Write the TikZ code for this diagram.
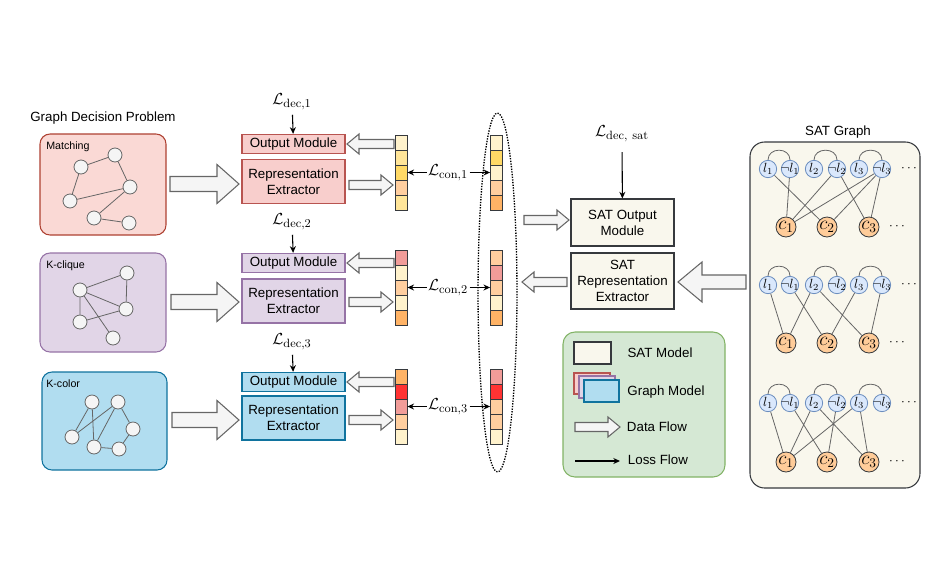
\documentclass[tikz,border=0pt]{standalone}
\usepackage[no-math]{fontspec}
\setmainfont{Liberation Sans}
\usetikzlibrary{fit,arrows.meta,calc}
\definecolor{gfill}{HTML}{F5F5F5}
\definecolor{gstroke}{HTML}{666666}
\definecolor{matF}{HTML}{FAD9D5}
\definecolor{matS}{HTML}{AE4132}
\definecolor{redF}{HTML}{F8CECC}
\definecolor{redS}{HTML}{B85450}
\definecolor{purF}{HTML}{E1D5E7}
\definecolor{purS}{HTML}{9673A6}
\definecolor{bluF}{HTML}{B1DDF0}
\definecolor{bluS}{HTML}{10739E}
\definecolor{satF}{HTML}{F9F7ED}
\definecolor{satS}{HTML}{36393D}
\definecolor{legF}{HTML}{D5E8D4}
\definecolor{legS}{HTML}{82B366}
\definecolor{litF}{HTML}{DAE8FC}
\definecolor{litS}{HTML}{6C8EBF}
\definecolor{clsF}{HTML}{FFCC99}
\definecolor{vc0}{HTML}{FFF2CC}
\definecolor{vc1}{HTML}{FFE599}
\definecolor{vc2}{HTML}{FFD966}
\definecolor{vc3}{HTML}{FFCE9F}
\definecolor{vc4}{HTML}{FFB366}
\definecolor{vc5}{HTML}{F19C99}
\definecolor{vc6}{HTML}{FF3333}
\newcommand\harr[7]{\draw[#1] (#2,#5-#6) -- (#3,#5-#6) -- (#3,#5-#7) -- (#4,#5) -- (#3,#5+#7) -- (#3,#5+#6) -- (#2,#5+#6) -- cycle;}
\newcommand\zb[1]{\makebox[0pt]{#1}}
\newcommand\mth{\fontsize{13}{15}\selectfont}
\begin{document}
\begin{tikzpicture}[x=0.75pt,y=-0.75pt,font=\fontsize{10}{12}\selectfont,
  panel/.style={rounded corners=7.5pt,line width=0.8pt,inner sep=0pt},
  modbox/.style={draw,line width=0.8pt,inner sep=0pt,align=center,minimum width=77.25pt},
  outbox/.style={modbox,minimum height=14.5pt},
  extbox/.style={modbox,minimum height=33pt},
  gnode/.style={circle,draw=gstroke,fill=gfill,minimum size=10.5pt,inner sep=0pt,line width=0.6pt},
  gedge/.style={draw=gstroke,line width=0.6pt},
  lit/.style={circle,draw=litS,fill=litF,minimum size=13pt,inner sep=0pt,line width=0.6pt,font=\normalsize},
  cls/.style={circle,draw=satS,fill=clsF,minimum size=15pt,inner sep=0pt,line width=0.6pt,font=\Large},
  cell/.style={draw=satS,line width=0.6pt,minimum width=9pt,minimum height=11.25pt,inner sep=0pt},
  lossarrow/.style={-{Stealth[length=5pt,width=4.5pt]},line width=0.8pt},
  bigarrow/.style={draw=gstroke,fill=gfill,line width=0.8pt},
  thinarrow/.style={draw=gstroke,fill=gfill,line width=0.8pt},
  lbl/.style={font=\footnotesize,anchor=west,inner sep=0pt}]
\useasboundingbox (0,0) rectangle (946,568);

% ---------- left panels ----------
\node at (103,118) {Graph Decision Problem};
\node[panel,fill=matF,draw=matS,fit={(40,134) (166,235)}] (p1) {};
\node[panel,fill=purF,draw=purS,fit={(40,253) (166,352)}] (p2) {};
\node[panel,fill=bluF,draw=bluS,fit={(42,372) (167,470)}] (p3) {};
\node[lbl] at (46,147) {Matching};
\node[lbl] at (46,266) {K-clique};
\node[lbl] at (46,384) {K-color};

% matching graph
\node[gnode] (m1) at (81,167) {};
\node[gnode] (m2) at (115,155) {};
\node[gnode] (m3) at (130,187) {};
\node[gnode] (m4) at (70,201) {};
\node[gnode] (m5) at (94,218) {};
\node[gnode] (m6) at (129,223) {};
\draw[gedge] (m1)--(m2) (m1)--(m4) (m2)--(m3) (m4)--(m3) (m3)--(m5) (m5)--(m6);
% k-clique graph
\node[gnode] (k1) at (127,273) {};
\node[gnode] (k2) at (80,290) {};
\node[gnode] (k3) at (126,309) {};
\node[gnode] (k4) at (80,322) {};
\node[gnode] (k5) at (113,338) {};
\draw[gedge] (k2)--(k1) (k2)--(k3) (k1)--(k3) (k2)--(k4) (k4)--(k3) (k2)--(k5);
% k-color graph
\node[gnode] (q1) at (92,402) {};
\node[gnode] (q2) at (118,402) {};
\node[gnode] (q3) at (133,429) {};
\node[gnode] (q4) at (72,437) {};
\node[gnode] (q5) at (94,447) {};
\node[gnode] (q6) at (119,449) {};
\draw[gedge] (q1)--(q4) (q1)--(q5) (q2)--(q4) (q2)--(q5) (q2)--(q3) (q3)--(q6) (q5)--(q6);

% big arrows
\harr{bigarrow}{170}{217}{239}{184}{7.5}{19.5}
\harr{bigarrow}{171}{217}{239}{302}{7.5}{19.5}
\harr{bigarrow}{172}{217}{239}{420}{7.5}{19.5}

% ---------- modules ----------
\node[outbox,fill=redF,draw=redS] (out1) at (293.5,144) {Output Module};
\node[extbox,fill=redF,draw=redS] (ext1) at (293.5,181.5) {Representation\\Extractor};
\node[outbox,fill=purF,draw=purS] (out2) at (293.5,263) {Output Module};
\node[extbox,fill=purF,draw=purS] (ext2) at (293.5,301) {Representation\\Extractor};
\node[outbox,fill=bluF,draw=bluS] (out3) at (293.5,382) {Output Module};
\node[extbox,fill=bluF,draw=bluS] (ext3) at (293.5,418) {Representation\\Extractor};

\node (ld1) at (292,102) {\mth$\mathcal{L}_{\mathrm{dec},1}$};
\node (ld2) at (292,222) {\mth$\mathcal{L}_{\mathrm{dec},2}$};
\node (ld3) at (292,342) {\mth$\mathcal{L}_{\mathrm{dec},3}$};
\draw[lossarrow] (ld1) -- (out1);
\draw[lossarrow] (ld2) -- (out2);
\draw[lossarrow] (ld3) -- (out3);

% ---------- vectors ----------
\foreach \c [count=\i] in {vc0,vc1,vc2,vc3,vc1} \node[cell,fill=\c] (vL1-\i) at (401,127.5+15*\i) {};
\foreach \c [count=\i] in {vc0,vc2,vc0,vc3,vc4} \node[cell,fill=\c] (vR1-\i) at (496.5,127.5+15*\i) {};
\foreach \c [count=\i] in {vc5,vc0,vc3,vc0,vc4} \node[cell,fill=\c] (vL2-\i) at (401,242.5+15*\i) {};
\foreach \c [count=\i] in {vc3,vc5,vc3,vc0,vc4} \node[cell,fill=\c] (vR2-\i) at (496.5,242.5+15*\i) {};
\foreach \c [count=\i] in {vc4,vc6,vc5,vc3,vc0} \node[cell,fill=\c] (vL3-\i) at (401,361.5+15*\i) {};
\foreach \c [count=\i] in {vc5,vc6,vc3,vc3,vc0} \node[cell,fill=\c] (vR3-\i) at (496.5,361.5+15*\i) {};

% thin arrows module <-> vector
\harr{thinarrow}{394}{359}{347}{144}{4.5}{10}
\harr{thinarrow}{349}{381}{393}{185}{4.5}{10}
\harr{thinarrow}{394}{359}{347}{263}{4.5}{10}
\harr{thinarrow}{349}{381}{393}{302}{4.5}{10}
\harr{thinarrow}{394}{359}{347}{382}{4.5}{10}
\harr{thinarrow}{349}{381}{393}{420}{4.5}{10}

% contrastive losses
\node[inner sep=1pt] (lc1) at (448,172.5) {\mth$\mathcal{L}_{\mathrm{con},1}$};
\node[inner sep=1pt] (lc2) at (448,287.5) {\mth$\mathcal{L}_{\mathrm{con},2}$};
\node[inner sep=1pt] (lc3) at (448,406.5) {\mth$\mathcal{L}_{\mathrm{con},3}$};
\foreach \r in {1,2,3}{
  \draw[lossarrow] (lc\r.west) -- (vL\r-3.east);
  \draw[lossarrow] (lc\r.east) -- (vR\r-3.west);
}
\draw[densely dotted,line width=1pt] (497.5,292.5) ellipse [x radius=14.6pt,y radius=134.6pt];

% ---------- SAT model ----------
\node (lds) at (622,134) {\mth$\mathcal{L}_{\mathrm{dec},\ \mathrm{sat}}$};
\node[modbox,minimum height=35.25pt,fill=satF,draw=satS] (satout) at (622.5,222.5) {SAT Output\\Module};
\node[modbox,minimum height=42pt,fill=satF,draw=satS] (satext) at (622.5,281) {SAT\\Representation\\Extractor};
\draw[lossarrow,shorten <=4pt] (lds) -- (satout);
\harr{thinarrow}{524}{557}{569}{220}{4.5}{10}
\harr{thinarrow}{567}{534}{522}{282}{4.5}{10}
\harr{bigarrow}{746}{702}{678}{282}{7}{20}

% ---------- legend ----------
\node[panel,rounded corners=9pt,fill=legF,draw=legS,fit={(563,332) (725,477)}] (leg) {};
\node[draw=satS,fill=satF,line width=0.8pt,inner sep=0pt,fit={(574,342) (611,364)}] (legsat) {};
\node[draw=redS,fill=redF,line width=0.8pt,inner sep=0pt,fit={(574,373) (610,394)}] (legg1) {};
\node[draw=purS,fill=purF,line width=0.8pt,inner sep=0pt,fit={(579,376) (615,398)}] (legg2) {};
\node[draw=bluS,fill=bluF,line width=0.8pt,inner sep=0pt,fit={(584,380) (619,402)}] (legg3) {};
\node at (660,353) {SAT Model};
\node at (666,392) {Graph Model};
\harr{thinarrow}{575}{608}{620}{427}{4.5}{10}
\node at (657,427) {Data Flow};
\coordinate (lf1) at (575,461);
\coordinate (lf2) at (620,461);
\draw[lossarrow] (lf1) -- (lf2);
\node at (658,460) {Loss Flow};

% ---------- SAT graph ----------
\node at (838,132) {SAT Graph};
\node[panel,rounded corners=11pt,fill=satF,draw=satS,fit={(750,142) (920,488)}] (satg) {};
\foreach \r/\ly/\cy in {1/169/227,2/285/343,3/403/462}{
  \node[lit] (l1-\r) at (768,\ly) {\zb{$l_1$}};
  \node[lit] (n1-\r) at (790,\ly) {\zb{$\neg l_1$}};
  \node[lit] (l2-\r) at (814,\ly) {\zb{$l_2$}};
  \node[lit] (n2-\r) at (837,\ly) {\zb{$\neg l_2$}};
  \node[lit] (l3-\r) at (859,\ly) {\zb{$l_3$}};
  \node[lit] (n3-\r) at (882,\ly) {\zb{$\neg l_3$}};
  \node (ld-\r) at (909,\ly) {$\cdots$};
  \node[cls] (c1-\r) at (786,\cy) {\zb{$c_1$}};
  \node[cls] (c2-\r) at (827,\cy) {\zb{$c_2$}};
  \node[cls] (c3-\r) at (869,\cy) {\zb{$c_3$}};
  \node (cd-\r) at (897,\cy) {$\cdots$};
  \draw[gedge] (l1-\r.north) .. controls +(0,-13) and +(0,-13) .. (n1-\r.north);
  \draw[gedge] (l2-\r.north) .. controls +(0,-13) and +(0,-13) .. (n2-\r.north);
  \draw[gedge] (l3-\r.north) .. controls +(0,-13) and +(0,-13) .. (n3-\r.north);
}
\draw[gedge] (l1-1)--(c2-1) (n1-1)--(c1-1) (n2-1)--(c1-1) (n2-1)--(c3-1) (n3-1)--(c1-1) (n3-1)--(c2-1) (n3-1)--(c3-1);
\draw[gedge] (l1-2)--(c1-2) (n1-2)--(c2-2) (l2-2)--(c1-2) (l2-2)--(c3-2) (l3-2)--(c2-2) (n3-2)--(c3-2);
\draw[gedge] (l1-3)--(c1-3) (n1-3)--(c2-3) (l2-3)--(c1-3) (l2-3)--(c3-3) (n2-3)--(c2-3) (l3-3)--(c1-3) (l3-3)--(c3-3);
\end{tikzpicture}
\end{document}
